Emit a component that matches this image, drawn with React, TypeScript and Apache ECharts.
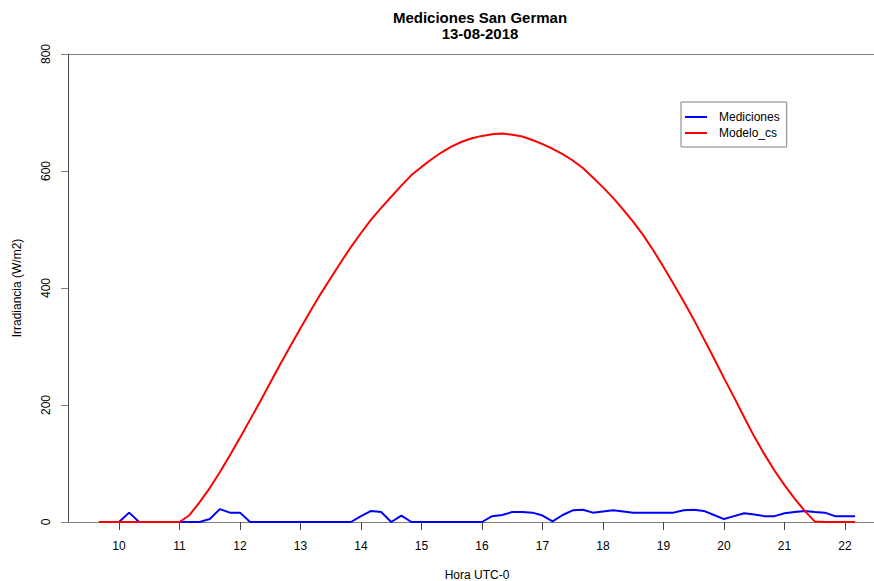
import React, { useEffect, useRef } from "react";
import * as echarts from "echarts";

const titleText = "Mediciones San German\n13-08-2018";
const xAxisName = "Hora UTC-0";
const yAxisName = "Irradiancia (W/m2)";
const xTickValues = [10, 11, 12, 13, 14, 15, 16, 17, 18, 19, 20, 21, 22];
const seriesNames = ["Mediciones", "Modelo_cs"];
const seriesColors = ["#0000FF", "#FF0000"];

const times = [
  "09:40", "09:50", "10:00", "10:10", "10:20", "10:30", "10:40", "10:50",
  "11:00", "11:10", "11:20", "11:30", "11:40", "11:50",
  "12:00", "12:10", "12:20", "12:30", "12:40", "12:50",
  "13:00", "13:10", "13:20", "13:30", "13:40", "13:50",
  "14:00", "14:10", "14:20", "14:30", "14:40", "14:50",
  "15:00", "15:10", "15:20", "15:30", "15:40", "15:50",
  "16:00", "16:10", "16:20", "16:30", "16:40", "16:50",
  "17:00", "17:10", "17:20", "17:30", "17:40", "17:50",
  "18:00", "18:10", "18:20", "18:30", "18:40", "18:50",
  "19:00", "19:10", "19:20", "19:30", "19:40", "19:50",
  "20:00", "20:10", "20:20", "20:30", "20:40", "20:50",
  "21:00", "21:10", "21:20", "21:30", "21:40", "21:50",
  "22:00", "22:10",
];

const mediciones: (number | null)[] = [
  null, null, 0, 16, 0, 0, 0, 0,
  0, 0, 0, 5, 22, 16,
  16, 0, 0, 0, 0, 0,
  0, 0, 0, 0, 0, 0,
  10, 19, 17, 0, 11, 0,
  0, 0, 0, 0, 0, 0,
  0, 10, 12, 17, 17, 16,
  11, 1, 12, 20, 21, 16,
  18, 20, 18, 16, 16, 16,
  16, 16, 20, 21, 19, 12,
  5, 10, 15, 13, 10, 10,
  15, 17, 19, 17, 16, 10,
  10, 10,
];

const modeloCs: number[] = [
  0, 0, 0, 0, 0, 0, 0, 0,
  0, 12, 34, 58, 85, 114,
  144, 175, 206, 238, 270, 301,
  331, 361, 390, 417, 444, 470,
  494, 517, 537, 556, 575, 593,
  607, 620, 632, 642, 650, 656,
  660, 663, 664, 662, 659, 653,
  646, 638, 629, 618, 605, 589,
  572, 554, 534, 513, 490, 464,
  436, 407, 377, 346, 313, 280,
  246, 213, 179, 146, 116, 88,
  63, 40, 19, 1, 0, 0,
  0, 0,
];

const toHours = (t: string) => {
  const [h, m] = t.split(":").map(Number);
  return h + m / 60;
};

export default function App() {
  const ref = useRef<HTMLDivElement>(null);
  useEffect(() => {
    if (!ref.current) return;
    const chart = echarts.init(ref.current, undefined, { renderer: "svg" });
    const hours = times.map(toHours);
    const blueData = hours.map((h, i) => [h, mediciones[i]]);
    const redData = hours.map((h, i) => [h, modeloCs[i]]);
    const font = "Liberation Sans, Arial, sans-serif";
    chart.setOption({
      animation: false,
      backgroundColor: "#ffffff",
      textStyle: { fontFamily: font },
      title: {
        text: titleText,
        left: 475,
        top: 4,
        textAlign: "center",
        textStyle: {
          fontFamily: font,
          fontSize: 15,
          fontWeight: "bold",
          color: "#000",
          lineHeight: 16.5,
        },
      },
      legend: {
        orient: "vertical",
        left: 681,
        top: 102,
        padding: [8, 7, 7, 4],
        itemWidth: 22,
        itemHeight: 2,
        itemGap: 2,
        icon: "rect",
        borderColor: "#808080",
        borderWidth: 1,
        borderRadius: 0,
        textStyle: {
          fontFamily: font,
          fontSize: 12,
          color: "#000",
          lineHeight: 14,
          padding: [0, 0, 0, 7],
        },
        data: seriesNames.map((n, i) => ({ name: n, icon: "rect", itemStyle: { color: seriesColors[i] } })),
      },
      grid: {
        left: 68,
        right: 0,
        top: 54,
        bottom: 59,
        containLabel: false,
        outerBoundsMode: "none",
      },
      xAxis: {
        type: "value",
        min: 9.157,
        max: 22.479,
        name: xAxisName,
        nameLocation: "middle",
        nameGap: 47,
        nameTextStyle: { fontFamily: font, fontSize: 12, color: "#000", padding: [0, 0, 0, 12] },
        axisLine: { show: true, lineStyle: { color: "#808080", width: 1 } },
        axisTick: {
          show: true,
          length: 8,
          inside: false,
          customValues: xTickValues,
          lineStyle: { color: "#444", width: 1 },
        },
        axisLabel: {
          show: true,
          customValues: xTickValues,
          margin: 18,
          fontFamily: font,
          fontSize: 12,
          color: "#000",
          formatter: (v: number) => String(v),
        },
        splitLine: { show: false },
      },
      yAxis: {
        type: "value",
        min: 0,
        max: 800,
        interval: 200,
        name: yAxisName,
        nameLocation: "middle",
        nameGap: 45,
        nameRotate: 90,
        nameTextStyle: { fontFamily: font, fontSize: 12, color: "#000" },
        axisLine: { show: true, lineStyle: { color: "#444", width: 1 } },
        axisTick: {
          show: true,
          length: 7,
          inside: false,
          lineStyle: { color: "#808080", width: 1 },
        },
        axisLabel: {
          show: true,
          rotate: 90,
          margin: 16,
          fontFamily: font,
          fontSize: 12,
          color: "#000",
        },
        splitLine: { show: false },
      },
      series: [
        {
          name: seriesNames[0],
          type: "line",
          data: blueData,
          symbol: "none",
          showSymbol: false,
          connectNulls: false,
          lineStyle: { color: seriesColors[0], width: 2 },
          itemStyle: { color: seriesColors[0] },
          markLine: {
            silent: true,
            symbol: ["none", "none"],
            label: { show: false },
            lineStyle: { color: "#808080", width: 1, type: "solid" },
            data: [{ yAxis: 800 }],
          },
        },
        {
          name: seriesNames[1],
          type: "line",
          data: redData,
          symbol: "none",
          showSymbol: false,
          lineStyle: { color: seriesColors[1], width: 2 },
          itemStyle: { color: seriesColors[1] },
        },
      ],
    });
    return () => chart.dispose();
  }, []);
  return (
    <div
      ref={ref}
      style={{ position: "fixed", left: 0, top: 0, width: 874, height: 581, background: "#fff" }}
    />
  );
}
